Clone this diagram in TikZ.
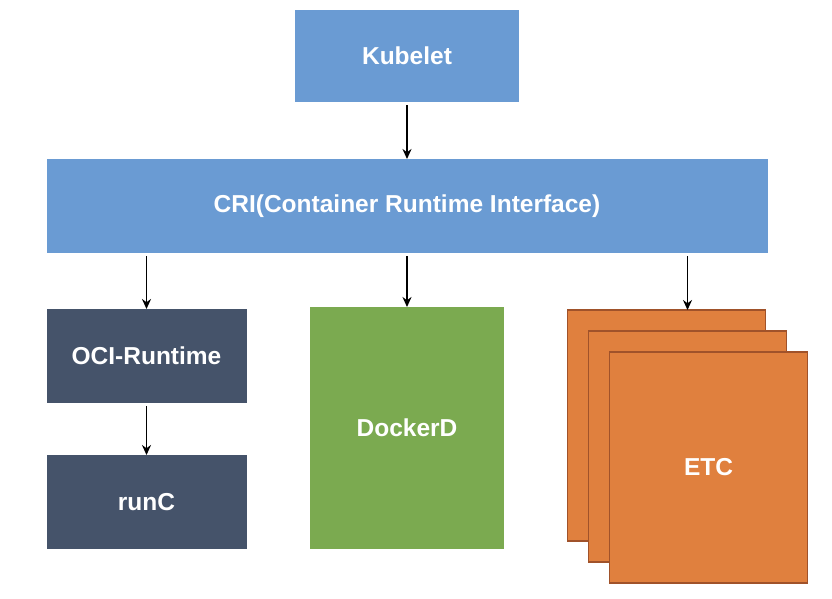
\documentclass[tikz,border=0pt]{standalone}
\usepackage{fontspec}
\setmainfont{Liberation Sans}
\usetikzlibrary{positioning, arrows.meta}

\definecolor{criblue}{HTML}{6A9BD3}
\definecolor{ocislate}{HTML}{45536A}
\definecolor{dockergreen}{HTML}{7BAA50}
\definecolor{etcorange}{HTML}{E0803E}
\definecolor{etcborder}{HTML}{A0522A}

\tikzset{
  box/.style={rectangle, inner sep=0pt, outer sep=0pt, text=white,
    font=\fontsize{24.5}{28}\selectfont\bfseries},
  bluebox/.style={box, fill=criblue},
  slatebox/.style={box, fill=ocislate, minimum width=200pt, minimum height=94pt},
  greenbox/.style={box, fill=dockergreen, minimum width=194pt, minimum height=242pt},
  orangebox/.style={box, fill=etcorange, draw=etcborder, line width=1.6pt,
    minimum width=198pt, minimum height=231pt}
}

\begin{document}
\begin{tikzpicture}[x=1pt, y=-1pt, ->, >={Stealth[length=10pt,width=9pt]},
                  line width=1.8pt, shorten <=3pt]

                  \useasboundingbox (0,0) rectangle (832,598);

                  % Cajas del esquema.
                  \node[bluebox, minimum width=224pt, minimum height=92pt] (kubelet)
                  at (407,56) {Kubelet};
                  \node[bluebox, minimum width=721pt, minimum height=94pt,
                  below=57pt of kubelet] (cri) {CRI(Container Runtime Interface)};
                  \node[slatebox, below right=56pt and 0pt of cri.south west] (oci)
                  {OCI-Runtime};
                  \node[slatebox, below=52pt of oci] (runc) {runC};
                  \node[greenbox, below=54pt of cri] (dockerd) {DockerD};
                  \node[orangebox, below left=57pt and 2pt of cri.south east] (etc1) {};
                  \node[orangebox] (etc2) at ([shift={(21,21)}]etc1.center) {};
                  \node[orangebox] (etc3) at ([shift={(21,21)}]etc2.center) {ETC};

                  % Flechas entre las cajas.
                  \draw (kubelet) -- (cri);
                  \draw (cri.south -| oci) -- (oci);
                  \draw (cri) -- (dockerd);
                  \draw (cri.south -| etc2) -- (etc2 |- etc1.north);
                  \draw (oci) -- (runc);

\end{tikzpicture}
\end{document}
